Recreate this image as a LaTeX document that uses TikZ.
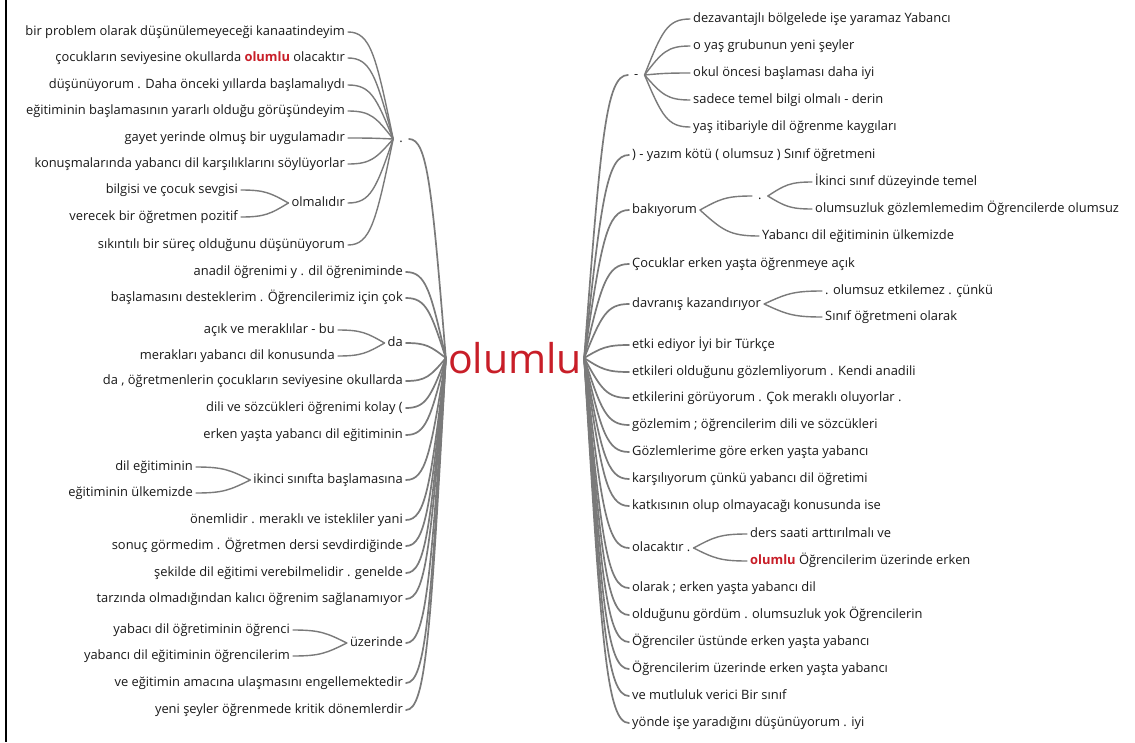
\documentclass[tikz,border=0pt]{standalone}
\usepackage{fontspec}
\setmainfont{Open Sans}
\usetikzlibrary{calc}
\definecolor{conncol}{RGB}{122,122,122}
\definecolor{txt}{RGB}{25,25,25}
\definecolor{ored}{RGB}{200,30,40}
\newcommand\fsz{\fontsize{12.9}{15}\selectfont}
\tikzset{
  basetext/.style={inner ysep=2pt, inner xsep=3pt, text=txt, font=\fsz, text height=9.3pt, text depth=3pt},
  lt/.style={basetext, anchor=east},
  rt/.style={basetext, anchor=west},
  hubtext/.style={inner xsep=6pt},
  conn/.style={draw=conncol, line width=1.4pt, line cap=round},
  mainconn/.style={conn, line width=1.7pt},
}
% left: from child (#2) to hub (#3); right: from hub (#2) to child (#3)
\newcommand\lk[3][conn]{\draw[#1] let \p1=(#2), \p2=(#3), \n1={\x2-\x1}, \n2={\y2-\y1} in (\p1) .. controls ({\x1+0.5*\n1},\y1) and ({\x1+0.62*\n1},{\y1+0.22*\n2}) .. (\p2);}
\newcommand\rk[3][conn]{\draw[#1] let \p1=(#2), \p2=(#3), \n1={\x2-\x1}, \n2={\y2-\y1} in (\p1) .. controls ({\x2-0.62*\n1},{\y2-0.22*\n2}) and ({\x2-0.5*\n1},\y2) .. (\p2);}
\newcommand\red[1]{\textcolor{ored}{\bfseries #1}}
\begin{document}
\begin{tikzpicture}[x=1pt,y=-1pt]
\useasboundingbox (0,0) rectangle (1135,742);
\fill[white] (0,0) rectangle (1135,742);
\draw[black, line width=2pt] (6,0) -- (6,742);

% centre
\node[text=ored, font=\fontsize{41}{49}\selectfont, inner xsep=2pt, inner ysep=1pt] (ol) at (515,358) {olumlu};

% ---------------- left side ----------------
\node[lt, hubtext] (Ld) at (409,139) {.};
\node[lt] (a1) at (348,32) {bir problem olarak düşünülemeyeceği kanaatindeyim};
\node[lt] (a2) at (348,58) {çocukların seviyesine okullarda \red{olumlu} olacaktır};
\node[lt] (a3) at (348,85) {düşünüyorum . Daha önceki yıllarda başlamalıydı};
\node[lt] (a4) at (348,111) {eğitiminin başlamasının yararlı olduğu görüşündeyim};
\node[lt] (a5) at (348,138) {gayet yerinde olmuş bir uygulamadır};
\node[lt] (a6) at (348,164) {konuşmalarında yabancı dil karşılıklarını söylüyorlar};
\node[lt] (a7) at (348,203) {olmalıdır};
\node[lt] (a7a) at (241,190) {bilgisi ve çocuk sevgisi};
\node[lt] (a7b) at (241,217) {verecek bir öğretmen pozitif};
\node[lt] (a8) at (348,245) {sıkıntılı bir süreç olduğunu düşünüyorum};

\node[lt] (L2) at (406,272) {anadil öğrenimi y . dil öğreniminde};
\node[lt] (L3) at (406,298) {başlamasını desteklerim . Öğrencilerimiz için çok};
\node[lt] (L4) at (406,343) {da};
\node[lt] (L4a) at (338,330) {açık ve meraklılar - bu};
\node[lt] (L4b) at (338,356) {merakları yabancı dil konusunda};
\node[lt] (L5) at (406,381) {da , öğretmenlerin çocukların seviyesine okullarda};
\node[lt] (L6) at (406,408) {dili ve sözcükleri öğrenimi kolay (};
\node[lt] (L7) at (406,435) {erken yaşta yabancı dil eğitiminin};
\node[lt] (L8) at (406,480) {ikinci sınıfta başlamasına};
\node[lt] (L8a) at (196,467) {dil eğitiminin};
\node[lt] (L8b) at (196,493) {eğitiminin ülkemizde};
\node[lt] (L9) at (406,520) {önemlidir . meraklı ve istekliler yani};
\node[lt] (L10) at (406,546) {sonuç görmedim . Öğretmen dersi sevdirdiğinde};
\node[lt] (L11) at (406,573) {şekilde dil eğitimi verebilmelidir . genelde};
\node[lt] (L12) at (406,599) {tarzında olmadığından kalıcı öğrenim sağlanamıyor};
\node[lt] (L13) at (406,643) {üzerinde};
\node[lt] (L13a) at (293,630) {yabacı dil öğretiminin öğrenci};
\node[lt] (L13b) at (293,656) {yabancı dil eğitiminin öğrencilerim};
\node[lt] (L14) at (406,683) {ve eğitimin amacına ulaşmasını engellemektedir};
\node[lt] (L15) at (406,710) {yeni şeyler öğrenmede kritik dönemlerdir};

\foreach \nm in {a1,a2,a3,a4,a5,a6,a7,a8} {\lk{\nm.east}{Ld.west}}
\lk{a7a.east}{a7.west}
\lk{a7b.east}{a7.west}
\lk{L4a.east}{L4.west}
\lk{L4b.east}{L4.west}
\lk{L8a.east}{L8.west}
\lk{L8b.east}{L8.west}
\lk{L13a.east}{L13.west}
\lk{L13b.east}{L13.west}
\foreach \nm in {Ld,L2,L3,L4,L5,L6,L7,L8,L9,L10,L11,L12,L13,L14,L15} {\lk[mainconn]{\nm.east}{ol.west}}

% ---------------- right side ----------------
\node[rt, hubtext] (R1) at (628,75) {-};
\node[rt] (r1a) at (690,19) {dezavantajlı bölgelede işe yaramaz Yabancı};
\node[rt] (r1b) at (690,46) {o yaş grubunun yeni şeyler};
\node[rt] (r1c) at (690,73) {okul öncesi başlaması daha iyi};
\node[rt] (r1d) at (690,100) {sadece temel bilgi olmalı - derin};
\node[rt] (r1e) at (690,127) {yaş itibariyle dil öğrenme kaygıları};
\node[rt] (R2) at (629,155) {) - yazım kötü ( olumsuz ) Sınıf öğretmeni};
\node[rt] (R3) at (629,210) {bakıyorum};
\node[rt, hubtext] (R3d) at (752,196) {.};
\node[rt] (r3a) at (812,182) {İkinci sınıf düzeyinde temel};
\node[rt] (r3b) at (812,209) {olumsuzluk gözlemlemedim Öğrencilerde olumsuz};
\node[rt] (R3b) at (759,236) {Yabancı dil eğitiminin ülkemizde};
\node[rt] (R4) at (629,264) {Çocuklar erken yaşta öğrenmeye açık};
\node[rt] (R5) at (629,304) {davranış kazandırıyor};
\node[rt] (r5a) at (822,291) {. olumsuz etkilemez . çünkü};
\node[rt] (r5b) at (822,317) {Sınıf öğretmeni olarak};
\node[rt] (R6) at (629,345) {etki ediyor İyi bir Türkçe};
\node[rt] (R7) at (629,372) {etkileri olduğunu gözlemliyorum . Kendi anadili};
\node[rt] (R8) at (629,398) {etkilerini görüyorum . Çok meraklı oluyorlar .};
\node[rt] (R9) at (629,425) {gözlemim ; öğrencilerim dili ve sözcükleri};
\node[rt] (R10) at (629,452) {Gözlemlerime göre erken yaşta yabancı};
\node[rt] (R11) at (629,479) {karşılıyorum çünkü yabancı dil öğretimi};
\node[rt] (R12) at (629,506) {katkısının olup olmayacağı konusunda ise};
\node[rt] (R13) at (629,548) {olacaktır .};
\node[rt] (r13a) at (747,534) {ders saati arttırılmalı ve};
\node[rt] (r13b) at (747,561) {\red{olumlu} Öğrencilerim üzerinde erken};
\node[rt] (R14) at (629,588) {olarak ; erken yaşta yabancı dil};
\node[rt] (R15) at (629,615) {olduğunu gördüm . olumsuzluk yok Öğrencilerin};
\node[rt] (R16) at (629,642) {Öğrenciler üstünde erken yaşta yabancı};
\node[rt] (R17) at (629,669) {Öğrencilerim üzerinde erken yaşta yabancı};
\node[rt] (R18) at (629,696) {ve mutluluk verici Bir sınıf};
\node[rt] (R19) at (629,723) {yönde işe yaradığını düşünüyorum . iyi};

\foreach \nm in {r1a,r1b,r1c,r1d,r1e} {\rk{R1.east}{\nm.west}}
\rk{R3.east}{R3d.west}
\rk{R3.east}{R3b.west}
\rk{R3d.east}{r3a.west}
\rk{R3d.east}{r3b.west}
\rk{R5.east}{r5a.west}
\rk{R5.east}{r5b.west}
\rk{R13.east}{r13a.west}
\rk{R13.east}{r13b.west}
\foreach \nm in {R1,R2,R3,R4,R5,R6,R7,R8,R9,R10,R11,R12,R13,R14,R15,R16,R17,R18,R19} {\rk[mainconn]{ol.east}{\nm.west}}
\end{tikzpicture}
\end{document}
